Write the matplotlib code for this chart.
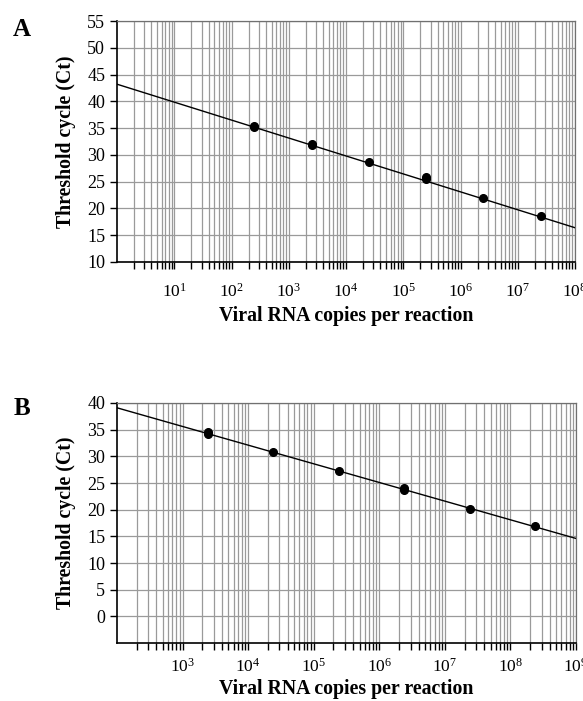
import numpy as np
import matplotlib
matplotlib.use("Agg")
import matplotlib.pyplot as plt
from matplotlib.ticker import LogLocator, NullFormatter

# ---- data ----
# panel A
a_copies = [2.5e2, 2.5e2, 2.5e3, 2.5e3, 2.5e4, 2.5e5, 2.5e5, 2.5e6, 2.5e7]
a_ct = [35.2, 35.4, 31.9, 32.1, 28.7, 25.5, 25.9, 21.9, 18.5]
a_intercept = 43.2   # Ct at 1 copy
a_slope = -3.35      # Ct per decade

# panel B
b_copies = [2.4e3, 2.4e3, 2.4e4, 2.4e5, 2.4e6, 2.4e6, 2.4e7, 2.4e8]
b_ct = [34.1, 34.6, 30.8, 27.2, 23.7, 24.0, 20.2, 17.0]
b_intercept = 46.1   # Ct at 1 copy
b_slope = -3.5

plt.rcParams['font.family'] = ['Liberation Serif', 'DejaVu Serif']
plt.rcParams['mathtext.fontset'] = 'stix'

GRID = '#9a9a9a'


def draw_panel(ax, copies, ct, b0, b1, xlim, ylim, yticks, xpad, xlabelpad):
    ax.set_xscale('log')
    ax.set_xlim(*xlim)
    ax.set_ylim(*ylim)
    ax.set_yticks(yticks)
    ax.xaxis.set_major_locator(LogLocator(base=10, numticks=20))
    ax.xaxis.set_minor_locator(LogLocator(base=10, subs=np.arange(2, 10), numticks=20))
    ax.xaxis.set_minor_formatter(NullFormatter())

    ax.grid(True, which='major', axis='both', color=GRID, lw=0.9)
    ax.grid(True, which='minor', axis='x', color=GRID, lw=0.9)
    ax.set_axisbelow(True)

    # fitted standard curve across the whole axis
    xs = np.logspace(np.log10(xlim[0]), np.log10(xlim[1]), 50)
    ax.plot(xs, b0 + b1 * np.log10(xs), color='black', lw=1.0, zorder=3)
    ax.plot(copies, ct, 'o', color='black', ms=5.5, zorder=4)

    ax.tick_params(axis='x', which='both', direction='out', length=5,
                   width=1.0, labelsize=12.5, pad=xpad)
    ax.tick_params(axis='y', direction='out', length=5, width=1.0, labelsize=13)

    for s in ['left', 'bottom']:
        ax.spines[s].set_color('black')
        ax.spines[s].set_linewidth(1.2)
    for s in ['top', 'right']:
        ax.spines[s].set_color('#707070')
        ax.spines[s].set_linewidth(0.9)

    ax.set_ylabel('Threshold cycle (Ct)', fontsize=14.3, fontweight='bold', labelpad=8)
    ax.set_xlabel('Viral RNA copies per reaction', fontsize=14.3, fontweight='bold',
                  labelpad=xlabelpad)


fig = plt.figure(figsize=(5.83, 7.01), dpi=100)

ax_a = fig.add_axes([117 / 583, 1 - 262 / 701, 458 / 583, 241 / 701])
draw_panel(ax_a, a_copies, a_ct, a_intercept, a_slope,
           (1, 1e8), (10, 55), np.arange(10, 56, 5), 10, 4)
ax_a.set_xticks([1e1, 1e2, 1e3, 1e4, 1e5, 1e6, 1e7, 1e8])

ax_b = fig.add_axes([117 / 583, 1 - 643 / 701, 459 / 583, 240 / 701])
draw_panel(ax_b, b_copies, b_ct, b_intercept, b_slope,
           (1e2, 1e9), (-5, 40), np.arange(0, 41, 5), 6, 2)
ax_b.set_xticks([1e3, 1e4, 1e5, 1e6, 1e7, 1e8, 1e9])

fig.text(22 / 583, 1 - 30 / 701, 'A', fontsize=18, fontweight='bold', va='center', ha='center')
fig.text(22 / 583, 1 - 409 / 701, 'B', fontsize=18, fontweight='bold', va='center', ha='center')

fig.savefig('out.png', dpi=100)
